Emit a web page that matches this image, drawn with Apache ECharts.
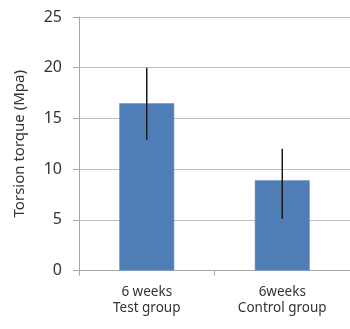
<!DOCTYPE html>
<html><head><meta charset="utf-8">
<script src="https://cdn.jsdelivr.net/npm/echarts@6/dist/echarts.min.js"></script>
<style>html,body{margin:0;padding:0;background:#fff}#c{width:350px;height:329px}</style>
</head><body><div id="c"></div>
<script>
const categories = ["6 weeks\nTest group", "6weeks\nControl group"];
const means = [16.5, 8.9];
const errLow = [12.9, 5.1];
const errHigh = [20.0, 12.0];
const yTicks = [0, 5, 10, 15, 20, 25];

const chart = echarts.init(document.getElementById('c'), null, {renderer: 'canvas'});
const font = '"Noto Sans", "Open Sans", sans-serif';
chart.setOption({
  animation: false,
  grid: {left: 79, top: 17, width: 278, height: 253.5},
  xAxis: {
    type: 'category', data: categories,
    axisLine: {lineStyle: {color: '#a6a6a6', width: 1}},
    axisTick: {show: true, length: 5, lineStyle: {color: '#a6a6a6'}},
    axisLabel: {color: '#333', fontSize: 13.5, fontFamily: font, lineHeight: 16, margin: 14}
  },
  yAxis: {
    type: 'value', min: yTicks[0], max: yTicks[yTicks.length - 1], interval: 5,
    name: 'Torsion torque (Mpa)', nameLocation: 'middle', nameGap: 52,
    nameTextStyle: {color: '#333', fontSize: 15, fontFamily: font},
    axisLine: {show: true, lineStyle: {color: '#a6a6a6'}},
    axisTick: {show: true, length: 6, lineStyle: {color: '#a6a6a6'}},
    axisLabel: {color: '#333', fontSize: 16, fontFamily: font, margin: 17},
    splitLine: {lineStyle: {color: '#bfbfbf', width: 1}}
  },
  series: [
    {type: 'bar', data: means, barWidth: 55,
     itemStyle: {color: '#4f7db6', borderColor: '#6f96c6', borderWidth: 0.6}},
    {type: 'custom', data: means.map((m, i) => [i, errLow[i], errHigh[i]]),
     renderItem: function (params, api) {
       const lo = api.coord([api.value(0), api.value(1)]);
       const hi = api.coord([api.value(0), api.value(2)]);
       return {type: 'line', shape: {x1: lo[0], y1: lo[1], x2: hi[0], y2: hi[1]},
               style: {stroke: '#1a1a1a', lineWidth: 1.5}};
     }, z: 5}
  ]
});
</script></body></html>
